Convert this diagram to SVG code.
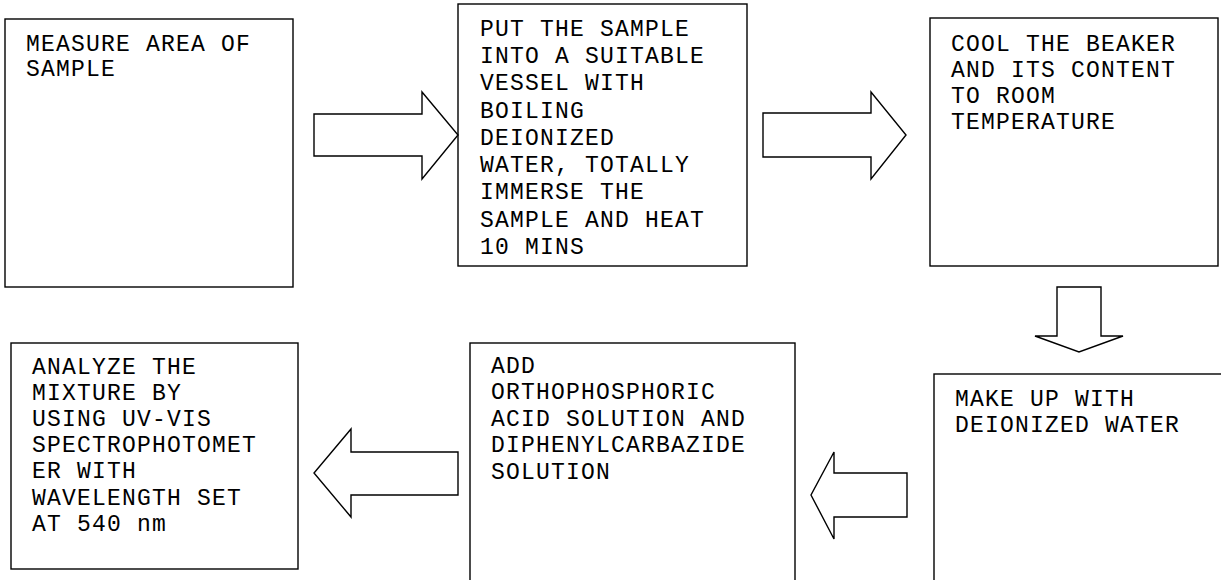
<svg xmlns="http://www.w3.org/2000/svg" width="1221" height="580" viewBox="0 0 1221 580">
<style>
.box{fill:#fff;stroke:#000;stroke-width:1.4}
.arr{fill:#fff;stroke:#000;stroke-width:1.4;stroke-linejoin:miter}
text{font-family:"Courier New","Nimbus Mono PS","FreeMono","Liberation Mono",monospace;font-size:23px;letter-spacing:1.2px;fill:#000}
</style>
<rect width="1221" height="580" fill="#fff"/>
<g id="node1">
<rect class="box" x="5" y="19" width="288" height="268"/>
<text x="26" y="51">MEASURE AREA OF</text>
<text x="26" y="76">SAMPLE</text>
</g>
<g id="node2">
<rect class="box" x="458" y="4" width="289" height="262"/>
<text x="480" y="36">PUT THE SAMPLE</text>
<text x="480" y="63">INTO A SUITABLE</text>
<text x="480" y="90">VESSEL WITH</text>
<text x="480" y="118">BOILING</text>
<text x="480" y="145">DEIONIZED</text>
<text x="480" y="172">WATER, TOTALLY</text>
<text x="480" y="199">IMMERSE THE</text>
<text x="480" y="227">SAMPLE AND HEAT</text>
<text x="480" y="254">10 MINS</text>
</g>
<g id="node3">
<rect class="box" x="930" y="18" width="288" height="248"/>
<text x="951" y="51">COOL THE BEAKER</text>
<text x="951" y="77">AND ITS CONTENT</text>
<text x="951" y="103">TO ROOM</text>
<text x="951" y="129">TEMPERATURE</text>
</g>
<g id="node4">
<rect class="box" x="934" y="374" width="300" height="230"/>
<text x="955" y="406">MAKE UP WITH</text>
<text x="955" y="432">DEIONIZED WATER</text>
</g>
<g id="node5">
<rect class="box" x="470" y="343" width="325" height="260"/>
<text x="491" y="373">ADD</text>
<text x="491" y="399">ORTHOPHOSPHORIC</text>
<text x="491" y="426">ACID SOLUTION AND</text>
<text x="491" y="452">DIPHENYLCARBAZIDE</text>
<text x="491" y="479">SOLUTION</text>
</g>
<g id="node6">
<rect class="box" x="11" y="343" width="287" height="226"/>
<text x="32" y="374">ANALYZE THE</text>
<text x="32" y="400">MIXTURE BY</text>
<text x="32" y="426">USING UV-VIS</text>
<text x="32" y="452">SPECTROPHOTOMET</text>
<text x="32" y="478">ER WITH</text>
<text x="32" y="505">WAVELENGTH SET</text>
<text x="32" y="531">AT 540 nm</text>
</g>
<g id="connectors">
<polygon class="arr" points="314,114 422,114 422,92 458,135 422,179 422,156 314,156"/>
<polygon class="arr" points="763,113 871,113 871,92 906,135 871,179 871,157 763,157"/>
<polygon class="arr" points="1057,287 1101,287 1101,336 1123,336 1079,352 1035,336 1057,336"/>
<polygon class="arr" points="907,473 834,473 834,452 811,495 834,539 834,517 907,517"/>
<polygon class="arr" points="458,452 351,452 351,429 314,473 351,517 351,495 458,495"/>
</g>
</svg>
